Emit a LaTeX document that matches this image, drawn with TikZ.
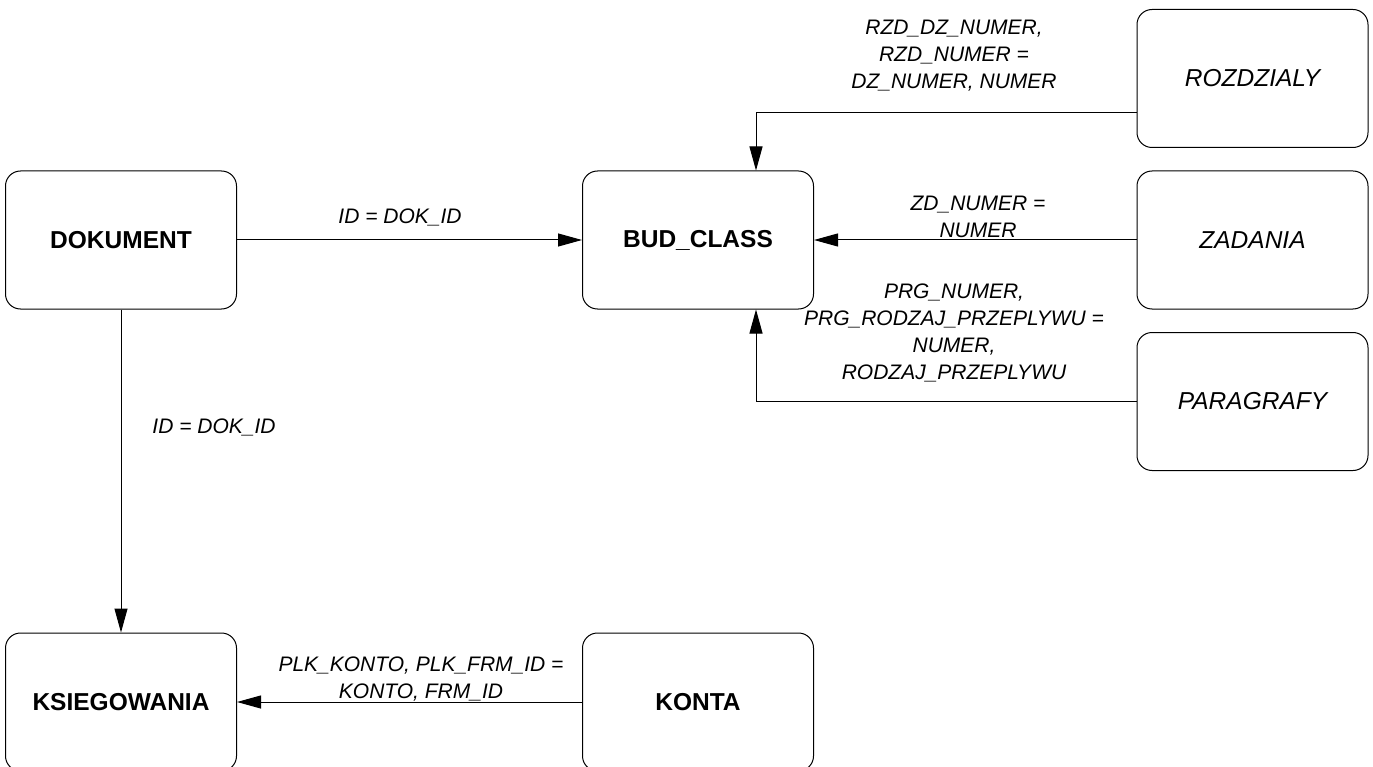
\documentclass[tikz,border=0pt]{standalone}
\usepackage{fontspec}
\setmainfont{Liberation Sans}
\usetikzlibrary{arrows.meta}

\begin{document}
\begin{tikzpicture}[x=1pt,y=-1pt,
    tbl/.style={draw, line width=1pt, rounded corners=15pt, minimum width=231pt,
      minimum height=138pt, inner sep=0pt},
    maintbl/.style={tbl, font=\fontsize{24.5}{29}\selectfont\bfseries},
    reftbl/.style={tbl, font=\fontsize{24.5}{29}\selectfont\itshape},
    rel/.style={line width=1pt, -{Triangle[length=24pt,width=13pt]}},
    lbl/.style={align=center, inner sep=0pt, font=\fontsize{21}{27}\selectfont\itshape}]
        \clip (0,0) rectangle (1373,767);

         % tables
        \node[maintbl] (dok) at (121,240) {DOKUMENT};
        \node[maintbl] (bud) at (698,240) {BUD\_CLASS};
        \node[reftbl] (roz) at (1252.5,78.5) {ROZDZIALY};
        \node[reftbl] (zad) at (1252.5,240) {ZADANIA};
        \node[reftbl] (par) at (1252.5,401.5) {PARAGRAFY};
        \node[maintbl] (ksi) at (121,702) {KSIEGOWANIA};
        \node[maintbl] (konta) at (698,702) {KONTA};

         % relations
        \draw[rel] (dok.east) -- (bud.west);
        \draw[rel] ([yshift=-34.5pt]roz.west) -| ([xshift=58pt]bud.north);
        \draw[rel] (zad.west) -- (bud.east);
        \draw[rel] (par.west) -| ([xshift=58pt]bud.south);
        \draw[rel] (dok.south) -- (ksi.north);
        \draw[rel] (konta.west) -- (ksi.east);

         % join conditions
        \node[lbl] (l-dok-bud) at (400,217) {ID = DOK\_ID};
        \node[lbl] (l-roz) at (954,56) {RZD\_DZ\_NUMER,\\RZD\_NUMER =\\DZ\_NUMER, NUMER};
        \node[lbl] (l-zad) at (978,217) {ZD\_NUMER =\\NUMER};
        \node[lbl] (l-par) at (954,333) {PRG\_NUMER,\\PRG\_RODZAJ\_PRZEPLYWU =\\NUMER,\\RODZAJ\_PRZEPLYWU};
        \node[lbl] (l-dok-ksi) at (214,427) {ID = DOK\_ID};
        \node[lbl] (l-konta) at (421,679) {PLK\_KONTO, PLK\_FRM\_ID =\\KONTO, FRM\_ID};
\end{tikzpicture}
\end{document}
